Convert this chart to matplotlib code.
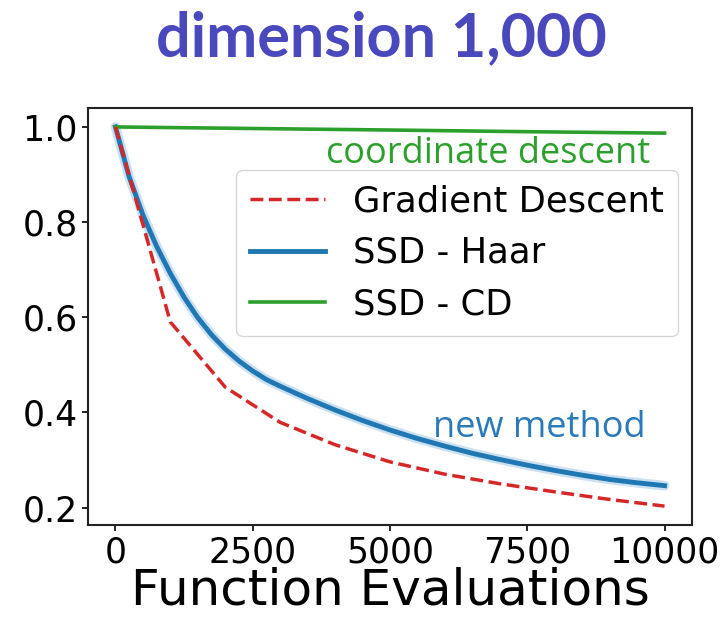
import matplotlib
matplotlib.use('Agg')
import matplotlib.pyplot as plt

plt.rcParams.update({'font.family': 'DejaVu Sans'})

# gradient descent: one step costs 1000 function evaluations
gd_evals = [0, 1000, 2000, 3000, 4000, 5000, 6000, 7000, 8000, 9000, 10000]
gd_vals = [1.0, 0.59, 0.453, 0.379, 0.332, 0.296, 0.270, 0.250, 0.233, 0.217, 0.203]

# SSD with Haar-random subspaces
haar_evals = [0, 250, 500, 750, 1000, 1250, 1500, 1750, 2000, 2250, 2500, 2750, 3000,
              3500, 4000, 4500, 5000, 5500, 6000, 6500, 7000, 7500, 8000, 8500, 9000,
              9500, 10000]
haar_vals = [1.0, 0.895, 0.815, 0.749, 0.692, 0.642, 0.599, 0.563, 0.533, 0.508, 0.487,
             0.469, 0.455, 0.429, 0.405, 0.383, 0.363, 0.345, 0.329, 0.314, 0.301, 0.289,
             0.278, 0.268, 0.259, 0.252, 0.246]

# SSD with coordinate directions
cd_evals = [0, 2500, 5000, 7500, 10000]
cd_vals = [1.0, 0.9967, 0.9935, 0.990, 0.987]

xticks = [0, 2500, 5000, 7500, 10000]
yticks = [0.2, 0.4, 0.6, 0.8, 1.0]

fig = plt.figure(figsize=(7.23, 6.17), dpi=100)
ax = fig.add_axes([0.1217, 0.149, 0.8354, 0.676])

ax.plot(gd_evals, gd_vals, '--', color='#d62728', lw=2.5, label='Gradient Descent', zorder=3)
ax.plot(haar_evals, haar_vals, color='#a9cce6', lw=7, alpha=0.6, zorder=2,
        solid_capstyle='round')
ax.plot(haar_evals, haar_vals, color='#1f77b4', lw=3.5, label='SSD - Haar', zorder=2)
ax.plot(cd_evals, cd_vals, color='#2ca02c', lw=2.6, label='SSD - CD', zorder=2)

ax.text(9743, 0.924, 'coordinate descent', color='#2ca02c', fontsize=26,
        family='Open Sans', ha='right', va='baseline')
ax.text(9651, 0.349, 'new method', color='#2a7ab9', fontsize=26,
        family='Open Sans', ha='right', va='baseline')

ax.set_xticks(xticks)
ax.set_yticks(yticks)
ax.set_yticklabels(['%.1f' % v for v in yticks])
ax.tick_params(labelsize=25, length=4, width=1.2)
ax.set_xlabel('Function Evaluations', fontsize=36, labelpad=-2)
for sp in ax.spines.values():
    sp.set_linewidth(1.5)
    sp.set_color('#222222')

leg = ax.legend(loc='upper right', bbox_to_anchor=(0.977, 0.851), borderaxespad=0,
                fontsize=25.5, labelspacing=0.5, handlelength=2.1)
leg.get_frame().set_edgecolor('#cccccc')

fig.text(0.528, 0.909, 'dimension 1,000', color='#4a48bd', fontsize=44,
         family='Lato', fontweight='bold', ha='center', va='baseline')

fig.savefig('out.png', dpi=100)
